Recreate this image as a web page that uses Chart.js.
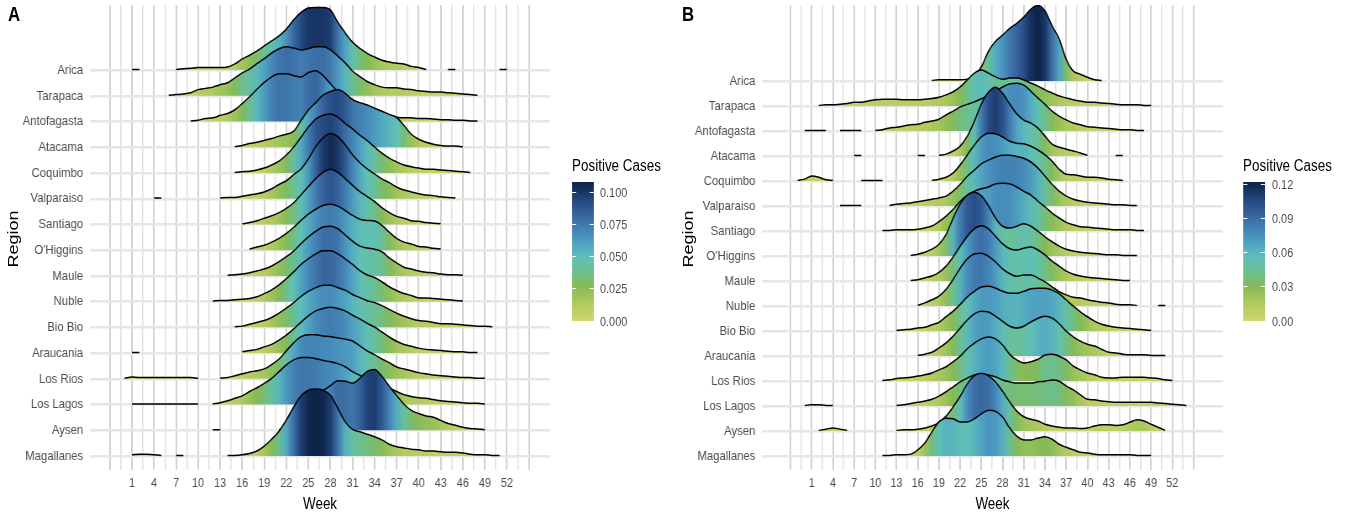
<!DOCTYPE html>
<html>
<head>
<meta charset="utf-8">
<title>Positive cases by region and week</title>
<script src="https://cdn.jsdelivr.net/npm/chart.js@4.4.1/dist/chart.umd.min.js"></script>
<style>
  html, body { margin:0; padding:0; background:#fff; width:1354px; height:517px; overflow:hidden; }
  #stage { position:absolute; left:0; top:0; width:1612px; height:517px; transform:scaleX(0.84); transform-origin:0 0;
           font-family:"Liberation Sans", Arial, Helvetica, sans-serif; }
  #stage canvas { position:absolute; top:0; }
  .txt { position:absolute; white-space:nowrap; line-height:1; }
  .tag { font-weight:bold; font-size:20px; color:#000; }
  .axtitle { font-size:16px; color:#000; width:200px; text-align:center; }
  .ytitle { font-size:18px; color:#000; width:120px; text-align:center; transform:rotate(-90deg); }
  .lgtitle { font-size:16px; color:#000; }
  .lglab { font-size:13px; color:#4d4d4d; }
  .bar { position:absolute; }
  .tick { position:absolute; height:1px; background:#fff; }
</style>
</head>
<body>
<div id="stage">
  <canvas id="panelA" width="806" height="517" style="left:0px;width:806px;height:517px"></canvas>
  <canvas id="panelB" width="806" height="517" style="left:806px;width:806px;height:517px"></canvas>
</div>
<script>
// ---------------------------------------------------------------------------
// Categories and axis breaks
// ---------------------------------------------------------------------------
const regions = ['Arica', 'Tarapaca', 'Antofagasta', 'Atacama', 'Coquimbo', 'Valparaiso', 'Santiago',
  "O'Higgins", 'Maule', 'Nuble', 'Bio Bio', 'Araucania', 'Los Rios', 'Los Lagos', 'Aysen', 'Magallanes'];

const weeks = [-1, 0, 1, 2, 3, 4, 5, 6, 7, 8, 9,
  10, 11, 12, 13, 14, 15, 16, 17, 18, 19,
  20, 21, 22, 23, 24, 25, 26, 27, 28, 29,
  30, 31, 32, 33, 34, 35, 36, 37, 38, 39,
  40, 41, 42, 43, 44, 45, 46, 47, 48, 49,
  50, 51, 52, 53, 54];

const weekLabels = [1, 4, 7, 10, 13, 16, 19, 22, 25, 28, 31, 34, 37, 40, 43, 46, 49, 52];
const legendBreaksA = [0, 0.025, 0.05, 0.075, 0.1];
const legendBreaksB = [0, 0.03, 0.06, 0.09, 0.12];

// ---------------------------------------------------------------------------
// Weekly density of positive cases (thousandths), weeks -1 .. 54; _ = no data
// ---------------------------------------------------------------------------
const _ = null;

// Panel A
const aArica = [_,_,1,1,_,_,_,_,1,2,3, 4,4,4,4,5,10,18,24,31,39, 47,55,66,81,93,100,101,101,97,77, 60,45,35,27,21,16,13,11,10,6, 4,1,_,_,1,1,_,_,_,_, _,1,1,_,_];
const aTarapaca = [_,_,_,_,_,_,_,1,2,3,5, 10,12,14,18,21,29,37,43,52,60, 69,76,79,77,74,76,79,79,74,64, 53,40,31,23,18,14,13,13,11,10, 8,7,6,6,5,4,3,2,1,_, _,_,_,_,_];
const aAntofagasta = [_,_,_,_,_,_,_,_,_,_,1, 2,5,6,10,13,19,29,40,52,63, 72,77,77,74,72,79,82,74,61,48, 39,31,24,18,14,11,9,7,6,6, 5,5,4,3,3,2,2,1,1,_, _,_,_,_,_];
const aAtacama = [_,_,_,_,_,_,_,_,_,_,_, _,_,_,_,_,1,3,6,8,11, 14,18,21,26,43,60,72,84,90,93, 87,77,72,68,63,58,53,48,35,21, 13,8,5,3,2,2,1,_,_,_, _,_,_,_,_];
const aCoquimbo = [_,_,_,_,_,_,_,_,_,_,_, _,_,_,_,_,1,2,3,5,8, 13,19,29,42,58,74,87,93,95,90, 80,71,61,52,42,32,24,18,13,10, 8,6,6,5,4,3,2,1,_,_, _,_,_,_,_];
const aValparaiso = [_,_,_,_,_,1,1,_,_,_,_, _,_,_,1,2,2,4,6,8,11, 16,23,29,39,48,64,84,98,105,100, 87,71,58,48,40,32,26,19,14,11, 8,6,5,3,2,1,_,_,_,_, _,_,_,_,_];
const aSantiago = [_,_,_,_,_,_,_,_,_,_,_, _,_,_,_,_,_,1,3,6,10, 14,19,26,35,48,61,74,84,89,84, 74,63,53,45,37,27,19,13,10,6, 5,3,2,1,_,_,_,_,_,_, _,_,_,_,_];
const aOHiggins = [_,_,_,_,_,_,_,_,_,_,_, _,_,_,_,_,_,_,2,5,8, 13,19,27,37,48,58,66,72,74,71, 64,56,50,48,47,40,29,19,13,10, 6,5,3,2,_,_,_,_,_,_, _,_,_,_,_];
const aMaule = [_,_,_,_,_,_,_,_,_,_,_, _,_,_,_,1,2,3,5,8,11, 16,23,31,40,52,63,72,79,80,76, 66,56,48,45,43,39,29,21,14,11, 8,6,5,3,2,2,1,_,_,_, _,_,_,_,_];
const aNuble = [_,_,_,_,_,_,_,_,_,_,_, _,_,1,2,2,3,4,5,8,13, 19,27,37,48,60,69,77,82,82,77, 69,60,50,43,39,32,24,18,13,10, 6,6,5,4,3,2,1,_,_,_, _,_,_,_,_];
const aBioBio = [_,_,_,_,_,_,_,_,_,_,_, _,_,_,_,_,1,2,5,8,11, 16,23,31,40,50,58,64,68,68,64, 60,53,48,43,40,35,29,23,18,14, 11,10,8,6,6,5,4,3,2,2, 1,_,_,_,_];
const aAraucania = [_,_,1,1,_,_,_,_,_,_,_, _,_,_,_,_,_,2,4,6,10, 14,21,29,39,50,60,68,72,74,72, 68,61,55,48,42,34,26,19,14,11, 8,6,5,4,3,2,2,1,1,_, _,_,_,_,_];
const aLosRios = [_,1,3,2,2,2,2,2,2,2,2, 1,_,_,1,2,5,8,11,13,16, 23,32,45,58,68,71,71,69,68,66, 64,61,53,45,39,32,26,19,16,13, 10,8,6,5,4,3,2,2,1,1, _,_,_,_,_];
const aLosLagos = [_,_,1,1,1,1,1,1,1,1,1, 1,_,1,3,6,10,14,21,27,34, 42,53,64,72,76,76,74,71,69,66, 61,53,47,42,39,34,27,21,16,13, 11,10,8,6,5,4,3,2,2,1, _,_,_,_,_];
const aAysen = [_,_,_,_,_,_,_,_,_,_,_, _,_,1,1,_,_,_,_,_,_, _,1,6,23,45,53,60,64,72,80, 79,76,84,95,98,87,71,56,42,32, 27,23,21,16,11,8,5,3,2,1, _,_,_,_,_];
const aMagallanes = [_,_,2,3,3,2,1,_,1,1,_, _,_,_,_,1,1,2,4,8,16, 27,40,58,79,97,106,108,106,98,77, 55,43,39,35,31,26,19,15,13,11, 10,8,8,7,6,6,5,3,2,2, 1,1,_,_,_];

// Panel B
const bArica = [_,_,_,_,_,_,_,_,_,_,_, _,_,_,_,_,_,_,_,1,2, 2,2,2,3,8,23,48,64,74,85, 93,103,116,122,113,89,68,35,16,11, 6,2,1,_,_,_,_,_,_,_, _,_,_,_,_];
const bTarapaca = [_,_,_,1,2,2,3,4,6,6,8, 10,11,11,11,10,10,10,11,12,14, 18,23,31,42,53,58,53,47,43,45, 45,42,37,32,26,21,16,13,10,8, 6,6,5,4,3,2,2,2,1,1, _,_,_,_,_];
const bAntofagasta = [_,1,1,1,1,_,1,1,1,1,_, 1,2,5,6,8,10,11,14,16,19, 26,32,39,43,47,52,58,64,71,76, 77,74,64,53,43,32,24,18,13,10, 7,6,5,4,3,2,2,1,1,_, _,_,_,_,_];
const bAtacama = [_,_,_,_,_,_,_,_,1,1,_, _,_,_,_,_,_,1,1,_,1, 3,8,16,32,56,84,103,111,101,84, 68,58,53,45,32,19,14,11,8,5, 1,_,_,_,1,1,_,_,_,_, _,_,_,_,_];
const bCoquimbo = [1,3,8,6,2,1,_,_,_,1,1, 1,1,_,_,_,_,_,_,1,3, 6,13,26,42,58,71,77,76,71,64, 61,60,56,50,42,32,19,11,10,8, 6,6,5,3,2,1,_,_,_,_, _,_,_,_,_];
const bValparaiso = [_,_,_,_,_,_,1,1,1,1,_, _,_,1,3,4,5,7,9,11,13, 16,24,35,48,58,68,74,79,82,82, 80,77,71,61,48,35,24,16,11,8, 6,5,4,3,2,2,1,1,_,_, _,_,_,_,_];
const bSantiago = [_,_,_,_,_,_,_,_,_,_,_, _,1,1,2,2,2,3,5,8,15, 24,35,48,58,64,68,71,76,77,76, 71,64,58,48,39,29,21,14,10,7, 6,5,4,3,2,2,2,1,1,_, _,_,_,_,_];
const bOHiggins = [_,_,_,_,_,_,_,_,_,_,_, _,_,_,_,_,1,3,6,11,19, 35,61,84,98,103,97,81,61,48,45, 48,52,48,40,31,23,16,11,8,6, 5,4,3,2,2,1,1,1,_,_, _,_,_,_,_];
const bMaule = [_,_,_,_,_,_,_,_,_,_,_, _,_,_,_,_,1,2,5,8,14, 24,39,56,72,84,89,84,72,60,52, 50,53,55,50,42,32,24,16,11,8, 6,5,4,3,2,1,1,_,_,_, _,_,_,_,_];
const bNuble = [_,_,_,_,_,_,_,_,_,_,_, _,_,_,_,_,_,1,5,10,16, 27,43,61,76,84,85,80,71,60,52, 48,50,50,45,39,31,23,18,14,13, 10,8,6,5,3,2,2,1,_,_, 1,1,_,_,_];
const bBioBio = [_,_,_,_,_,_,_,_,_,_,_, _,_,_,1,2,3,5,6,10,14, 23,32,43,55,64,71,72,69,64,61, 61,64,68,69,69,66,60,50,40,31, 23,16,11,8,6,5,4,3,2,1, _,_,_,_,_];
const bAraucania = [_,_,_,_,_,_,_,_,_,_,_, _,_,_,_,_,_,1,3,6,13, 21,32,45,58,68,72,71,64,56,48, 45,48,55,61,64,61,52,40,31,24, 19,16,11,6,5,3,2,2,2,1, 1,1,_,_,_];
const bLosRios = [_,_,_,_,_,_,_,_,_,_,_, _,1,2,4,5,6,8,10,13,18, 23,31,40,52,61,68,71,68,58,43, 34,29,31,35,42,43,40,34,24,18, 13,10,6,5,5,6,6,6,6,5, 4,2,1,_,_];
const bLosLagos = [_,1,2,2,1,1,_,_,_,_,_, _,_,_,1,2,4,6,8,11,16, 23,31,39,45,50,52,50,47,42,39, 37,37,37,39,40,42,40,32,26,18, 11,10,8,7,6,6,6,6,6,6, 5,4,3,2,1];
const bAysen = [_,_,_,1,3,5,3,1,_,_,_, _,_,_,1,2,2,3,5,8,14, 24,39,56,76,89,93,89,79,64,47, 32,23,19,16,11,8,6,5,5,4, 5,8,10,10,9,10,14,18,16,11, 6,1,_,_,_];
const bMagallanes = [_,_,_,_,_,_,_,_,_,_,_, _,1,1,2,2,3,10,21,39,55, 61,60,55,55,60,68,74,72,63,45, 32,26,26,29,31,27,19,14,10,6, 5,3,2,2,2,2,2,1,1,1, _,_,_,_,_];

const seriesA = [aArica, aTarapaca, aAntofagasta, aAtacama, aCoquimbo, aValparaiso, aSantiago, aOHiggins,
  aMaule, aNuble, aBioBio, aAraucania, aLosRios, aLosLagos, aAysen, aMagallanes];
const seriesB = [bArica, bTarapaca, bAntofagasta, bAtacama, bCoquimbo, bValparaiso, bSantiago, bOHiggins,
  bMaule, bNuble, bBioBio, bAraucania, bLosRios, bLosLagos, bAysen, bMagallanes];

// ---------------------------------------------------------------------------
// Colour scale: yellow -> green -> teal -> blue -> navy
// ---------------------------------------------------------------------------
const paletteStops = [
  [0.00, '#d4d66b'], [0.14, '#a9c85e'], [0.25, '#86ba56'], [0.35, '#6cbf8e'],
  [0.45, '#5fc0b7'], [0.55, '#51a5c3'], [0.65, '#4586b8'], [0.75, '#3a69a2'],
  [0.85, '#274c85'], [0.93, '#183666'], [1.00, '#0d2347']
];
function hexRgb(h) { return [parseInt(h.slice(1, 3), 16), parseInt(h.slice(3, 5), 16), parseInt(h.slice(5, 7), 16)]; }
function paletteAt(t) {
  t = Math.max(0, Math.min(1, t));
  for (let i = 1; i < paletteStops.length; i++) {
    const [t1, c1] = paletteStops[i];
    if (t <= t1) {
      const [t0, c0] = paletteStops[i - 1];
      const f = (t - t0) / (t1 - t0);
      const a = hexRgb(c0), b = hexRgb(c1);
      return 'rgb(' + a.map((v, k) => Math.round(v + (b[k] - v) * f)).join(',') + ')';
    }
  }
  return paletteStops[paletteStops.length - 1][1];
}

// gridlines every week and a half, the labelled ones every third week
const gridWeeks = [];
for (let v = -2; v <= 55; v += 1.5) gridWeeks.push(v);

const FONT = '"Liberation Sans", Arial, Helvetica, sans-serif';

function noEdgePadding(s) {
  s.paddingTop = 0; s.paddingBottom = 0; s.paddingLeft = 0; s.paddingRight = 0;
}

function ridgeChart(canvasId, series, cfg) {
  const maxD = Math.max(...series.flat().filter(v => v !== null));
  const n = regions.length;
  const first = weeks[0], last = weeks[weeks.length - 1];
  const datasets = [];
  // bottom ridge first so that it is painted last (on top)
  for (let row = 0; row < n; row++) {
    const idx = n - 1 - row;
    const vals = series[idx];
    datasets.push({
      label: regions[idx],
      data: weeks.map((w, k) => ({ x: w, y: vals[k] === null ? null : row + vals[k] / cfg.rowUnit })),
      fill: { value: row },
      borderColor: '#000000',
      borderWidth: 1.5,
      pointRadius: 0,
      pointHoverRadius: 0,
      cubicInterpolationMode: 'monotone',
      spanGaps: false,
      backgroundColor: (ctx) => {
        const chart = ctx.chart;
        if (!chart.chartArea || !chart.scales.x) return paletteAt(0);
        const xs = chart.scales.x;
        const x0 = xs.getPixelForValue(first), x1 = xs.getPixelForValue(last);
        const g = chart.ctx.createLinearGradient(x0, 0, x1, 0);
        weeks.forEach((w, k) => g.addColorStop((w - first) / (last - first), paletteAt((vals[k] || 0) / maxD)));
        return g;
      }
    });
  }

  new Chart(document.getElementById(canvasId), {
    type: 'line',
    data: { datasets },
    options: {
      responsive: false,
      animation: false,
      devicePixelRatio: 1,
      events: [],
      layout: { padding: { left: 0, right: cfg.padRight, top: 5, bottom: 0 } },
      plugins: { legend: { display: false }, tooltip: { enabled: false }, title: { display: false } },
      scales: {
        x: {
          type: 'linear', min: cfg.xMin, max: cfg.xMax,
          afterBuildTicks: (s) => { s.ticks = gridWeeks.map(v => ({ value: v })); },
          afterFit: (s) => { s.height = 47; noEdgePadding(s); },
          ticks: {
            autoSkip: false, maxRotation: 0, minRotation: 0, padding: 6,
            color: '#4d4d4d', font: { family: FONT, size: 13 },
            callback: (v) => weekLabels.includes(v) ? String(v) : ''
          },
          grid: {
            drawTicks: false,
            color: (c) => Number.isInteger(c.tick && c.tick.value) ? '#d2d2d2' : '#e1e1e1',
            lineWidth: (c) => Number.isInteger(c.tick && c.tick.value) ? 2 : 1.6
          },
          border: { display: false }
        },
        y: {
          type: 'linear', min: cfg.yMin, max: cfg.yMax,
          afterBuildTicks: (s) => { s.ticks = regions.map((r, i) => ({ value: i })); },
          afterFit: (s) => { s.width = cfg.yWidth; noEdgePadding(s); },
          ticks: {
            autoSkip: false, padding: 8, color: '#4d4d4d', font: { family: FONT, size: 13.5 },
            callback: (v) => regions[n - 1 - v]
          },
          grid: { drawTicks: false, color: '#e6e6e6', lineWidth: 2.4 },
          border: { display: false }
        }
      }
    }
  });
  return maxD / 1000;
}

const maxA = ridgeChart('panelA', seriesA, {
  xMin: -4.71, xMax: 57.87, yMin: -0.544, yMax: 17.53, rowUnit: 41.47, yWidth: 107.1, padRight: 151.2
});
const maxB = ridgeChart('panelB', seriesB, {
  xMin: -6.03, xMax: 59.18, yMin: -0.56, yMax: 18.04, rowUnit: 40.33, yWidth: 101.2, padRight: 156
});

// ---------------------------------------------------------------------------
// Text and colour bars
// ---------------------------------------------------------------------------
const stage = document.getElementById('stage');
function addText(cls, text, left, top, extra) {
  const d = document.createElement('div');
  d.className = 'txt ' + cls;
  d.textContent = text;
  d.style.left = left + 'px';
  d.style.top = top + 'px';
  if (extra) Object.assign(d.style, extra);
  stage.appendChild(d);
  return d;
}

addText('tag', 'A', 9.5, 4.4);
addText('tag', 'B', 812, 4.4);
addText('axtitle', 'Week', 381 - 100, 496);
addText('axtitle', 'Week', 1181.5 - 100, 496);
addText('ytitle', 'Region', 16.2 - 60, 239 - 9);
addText('ytitle', 'Region', 818.5 - 60, 239 - 9);

function colorbar(maxV, breaks, digits, barLeft, labLeft) {
  const barTop = 182, barH = 139, barW = 25.8;
  addText('lgtitle', 'Positive Cases', barLeft, 158);
  const bar = document.createElement('div');
  bar.className = 'bar';
  bar.style.left = barLeft + 'px';
  bar.style.top = barTop + 'px';
  bar.style.width = barW + 'px';
  bar.style.height = barH + 'px';
  bar.style.background = 'linear-gradient(to top, ' +
    paletteStops.map(([t, c]) => c + ' ' + (t * 100).toFixed(1) + '%').join(', ') + ')';
  stage.appendChild(bar);
  breaks.forEach(b => {
    const y = barTop + barH * (1 - b / maxV);
    [barLeft, barLeft + barW - 5].forEach(x => {
      const t = document.createElement('div');
      t.className = 'tick';
      t.style.left = x + 'px';
      t.style.top = (y - 0.5) + 'px';
      t.style.width = '5px';
      stage.appendChild(t);
    });
    addText('lglab', b.toFixed(digits), labLeft, y - 6.4);
  });
}
colorbar(maxA, legendBreaksA, 3, 681, 714.3);
colorbar(maxB, legendBreaksB, 2, 1479.8, 1514.3);
</script>
</body>
</html>
